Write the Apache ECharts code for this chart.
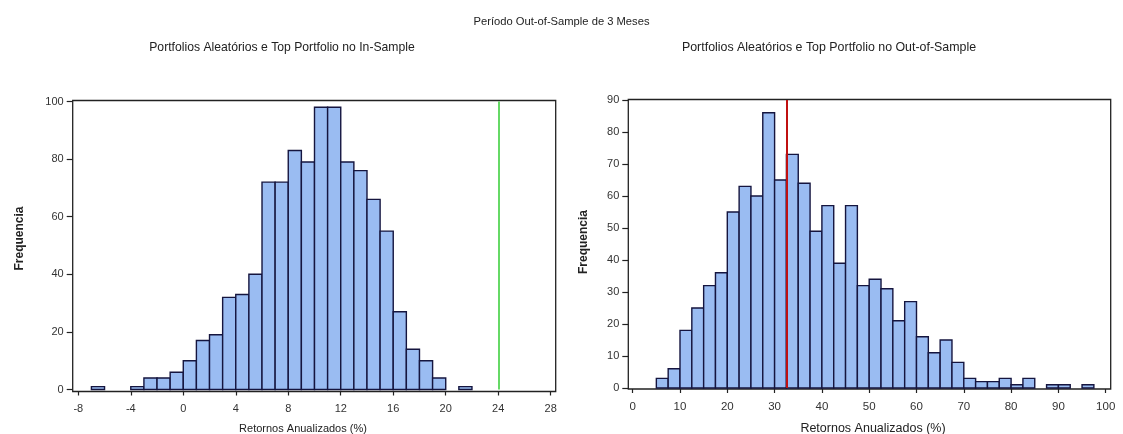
<!DOCTYPE html>
<html>
<head>
<meta charset="utf-8">
<script src="https://cdn.jsdelivr.net/npm/echarts@6/dist/echarts.min.js"></script>
<style>
  html, body { margin: 0; padding: 0; background: #ffffff; }
  #chart { width: 1123px; height: 434px; }
</style>
</head>
<body>
<div id="chart"></div>
<script>
// ---- data ----
const mainTitle = 'Período Out-of-Sample de 3 Meses';
const leftTitle = 'Portfolios Aleatórios e Top Portfolio no In-Sample';
const rightTitle = 'Portfolios Aleatórios e Top Portfolio no Out-of-Sample';
const xName = 'Retornos Anualizados (%)';
const yName = 'Frequencia';

// In-sample histogram: bins of width 1 starting at -8
const leftBinStart = -8;
const leftBinWidth = 1;
const leftCounts = [0, 1, 0, 0, 1, 4, 4, 6, 10, 17, 19, 32, 33, 40, 72, 72, 83, 79, 98, 98,
                    79, 76, 66, 55, 27, 14, 10, 4, 0, 1];
const leftTopPortfolio = 24.05;

// Out-of-sample histogram: bins of width 2.5 starting at 5
const rightBinStart = 5;
const rightBinWidth = 2.5;
const rightCounts = [3, 6, 18, 25, 32, 36, 55, 63, 60, 86, 65, 73, 64, 49, 57, 39, 57, 32, 34, 31,
                     21, 27, 16, 11, 15, 8, 3, 2, 2, 3, 1, 3, 0, 1, 1, 0, 1];
const rightTopPortfolio = 32.6;

// ---- build ----
function bins(start, width, counts) {
  return counts.map((c, i) => [start + i * width, start + (i + 1) * width, c]);
}
const FONT = '"Liberation Sans", Arial, sans-serif';
const BAR_FILL = '#9abcf2';
const BAR_STROKE = '#15153f';

function renderBin(params, api) {
  const c = api.value(2);
  if (!c) return null;
  const p0 = api.coord([api.value(0), 0]);
  const p1 = api.coord([api.value(1), c]);
  return {
    type: 'rect',
    shape: { x: p0[0], y: p1[1], width: p1[0] - p0[0], height: p0[1] - p1[1] },
    style: { fill: BAR_FILL, stroke: BAR_STROKE, lineWidth: 1.4 }
  };
}

function xAxisCfg(gridIndex, min, max, interval, offset, fontSize) {
  return {
    type: 'value', gridIndex, min, max, interval, offset,
    axisLine: { show: false, onZero: false },
    axisTick: { show: true, length: 4, lineStyle: { color: '#222', width: 1.2 } },
    axisLabel: { margin: 12, color: '#333', fontSize, fontFamily: FONT },
    splitLine: { show: false }
  };
}
function yAxisCfg(gridIndex, min, max, interval, offset, nameGap, fontSize, namePad) {
  return {
    type: 'value', gridIndex, min, max, interval, offset,
    name: yName, nameLocation: 'middle', nameGap,
    nameTextStyle: { color: '#222', fontSize: 12, fontWeight: 'bold', fontFamily: FONT, padding: namePad },
    axisLine: { show: false, onZero: false },
    axisTick: { show: true, length: 6, lineStyle: { color: '#222', width: 1.2 } },
    axisLabel: { margin: 9, color: '#333', fontSize, fontFamily: FONT },
    splitLine: { show: false }
  };
}

const frameStyle = { show: true, borderColor: '#222', borderWidth: 1.3, backgroundColor: 'transparent' };
function txt(size) {
  return { fontSize: size, fontWeight: 'normal', color: '#222', fontFamily: FONT };
}

const option = {
  backgroundColor: '#ffffff',
  animation: false,
  title: [
    { text: mainTitle, left: 'center', top: 11, textStyle: txt(11.2) },
    { text: leftTitle, left: 277, textAlign: 'center', top: 37, textStyle: txt(12.2) },
    { text: rightTitle, left: 824, textAlign: 'center', top: 37, textStyle: txt(12.4) },
    { text: xName, left: 298, textAlign: 'center', top: 418, textStyle: txt(11) },
    { text: xName, left: 868, textAlign: 'center', top: 417, textStyle: txt(12.5) }
  ],
  grid: [
    Object.assign({ left: 72.7, top: 100.5, width: 483, height: 291 }, frameStyle),
    { left: 78.3, top: 101.5, width: 472.4, height: 288, show: false },
    Object.assign({ left: 628.3, top: 99.5, width: 482.4, height: 289.5 }, frameStyle),
    { left: 632.7, top: 100, width: 473, height: 288, show: false }
  ],
  xAxis: [
    xAxisCfg(1, -8, 28, 4, 2, 11),
    xAxisCfg(3, 0, 100, 10, 1, 11.5)
  ],
  yAxis: [
    yAxisCfg(1, 0, 100, 20, 5.6, 47, 11, [0, 0, 0, 14]),
    yAxisCfg(3, 0, 90, 10, 4.4, 39, 11, [0, 0, 0, 4])
  ],
  series: [
    {
      type: 'custom', xAxisIndex: 0, yAxisIndex: 0,
      renderItem: renderBin,
      data: bins(leftBinStart, leftBinWidth, leftCounts),
      markLine: {
        silent: true, symbol: 'none', label: { show: false },
        lineStyle: { color: '#33cc33', width: 1.5, type: 'solid' },
        data: [{ xAxis: leftTopPortfolio }]
      }
    },
    {
      type: 'custom', xAxisIndex: 1, yAxisIndex: 1,
      renderItem: renderBin,
      data: bins(rightBinStart, rightBinWidth, rightCounts),
      markLine: {
        silent: true, symbol: 'none', label: { show: false },
        lineStyle: { color: '#c01010', width: 2, type: 'solid' },
        data: [{ xAxis: rightTopPortfolio }]
      }
    }
  ]
};

const chart = echarts.init(document.getElementById('chart'), null, { renderer: 'canvas' });
chart.setOption(option);
</script>
</body>
</html>
